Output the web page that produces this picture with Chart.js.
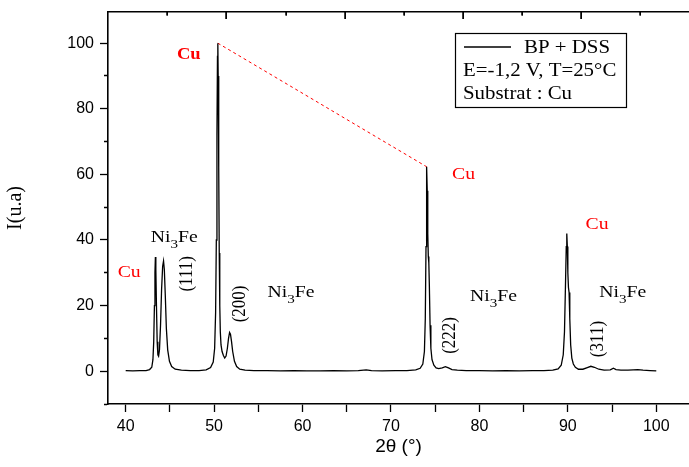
<!DOCTYPE html>
<html>
<head>
<meta charset="utf-8">
<script src="https://cdn.jsdelivr.net/npm/chart.js@4.4.1/dist/chart.umd.min.js"></script>
<style>
  html, body { margin: 0; padding: 0; background: #fff; }
  #wrap { width: 689px; height: 467px; }
</style>
</head>
<body>
<div id="wrap"><canvas id="xrd" width="689" height="467"></canvas></div>
<script>
// Diffraction pattern: 2θ (degrees) and intensity (a.u.)
const twoTheta = [
  40.0, 40.8, 41.6, 42.3, 42.7, 42.95, 43.08, 43.17, 43.25, 43.31, 43.36, 43.41, 43.48, 43.56, 43.64, 43.72,
  43.82, 43.94, 44.06, 44.18, 44.28, 44.37, 44.48, 44.6, 44.75, 44.95, 45.2, 45.6, 46.3, 47.3, 48.3, 49.1,
  49.6, 49.9, 50.06, 50.17, 50.25, 50.32, 50.38, 50.42, 50.46, 50.52, 50.58, 50.64, 50.7, 50.78, 50.9, 51.05,
  51.2, 51.35, 51.5, 51.63, 51.75, 51.85, 51.97, 52.1, 52.3, 52.55, 52.9, 53.5, 54.5, 56.0, 57.5, 59.0,
  60.5, 62.0, 63.5, 65.0, 66.3, 67.2, 67.8, 69.0, 70.5, 71.8, 72.8, 73.3, 73.6, 73.78, 73.88, 73.96,
  74.01, 74.05, 74.1, 74.16, 74.22, 74.28, 74.34, 74.42, 74.51, 74.64, 74.85, 75.1, 75.4, 75.8, 76.15, 76.5,
  76.9, 77.5, 78.5, 80.0, 81.5, 83.0, 84.5, 86.0, 87.3, 88.3, 88.9, 89.25, 89.48, 89.62, 89.73, 89.82,
  89.88, 89.94, 90.0, 90.07, 90.14, 90.22, 90.32, 90.45, 90.62, 90.85, 91.2, 91.7, 92.2, 92.6, 93.0, 93.5,
  94.1, 94.8, 95.15, 95.45, 96.0, 96.8, 97.4, 97.9, 98.5, 99.3, 100.0
];
const intensity = [
  0.2, 0.1, 0.2, 0.2, 0.5, 1.2, 3.5, 9, 20, 30, 34.8, 31, 20, 9, 5, 4.6,
  6.5, 14, 25, 32, 33.6, 31, 23, 13, 6.5, 3, 1.4, 0.6, 0.3, 0.2, 0.2, 0.4,
  1.1, 2.8, 7, 18, 40, 72, 96, 100, 90, 62, 36, 20, 12, 8, 6, 4.8,
  4.0, 4.6, 7, 10, 11.8, 11.3, 9, 6, 3, 1.4, 0.6, 0.3, 0.2, 0.2, 0.1, 0.2,
  0.1, 0.1, 0.2, 0.1, 0.2, 0.4, 0.2, 0.1, 0.2, 0.2, 0.4, 0.9, 2.2, 6, 16, 38,
  56, 62.3, 55, 42, 35, 33, 26, 14, 7, 3.5, 1.8, 1.0, 0.8, 1.0, 1.4, 1.0,
  0.5, 0.3, 0.2, 0.2, 0.1, 0.2, 0.1, 0.2, 0.2, 0.3, 0.7, 1.8, 5, 12, 26, 38,
  42, 38, 30, 25.5, 24, 16, 8, 4, 2.2, 1.2, 0.6, 0.6, 1.1, 1.5, 1.2, 0.6,
  0.3, 0.4, 0.9, 0.5, 0.3, 0.3, 0.4, 0.5, 0.3, 0.2, 0.1
];
// Dashed guide joining the two strongest Cu reflections
const guideTheta = [50.42, 74.05];
const guideIntensity = [100, 62.3];

// Labelled tick values
const xLabelValues = [40, 50, 60, 70, 80, 90, 100];
const yLabelValues = [0, 20, 40, 60, 80, 100];
// Unlabelled marks along the top frame
const topTickValues = [44.72, 51.4, 58.1, 64.78, 71.46, 78.14, 84.84, 91.52, 98.2];

const SERIF = '"Liberation Serif", "Times New Roman", serif';
const SANS = '"Liberation Sans", Arial, sans-serif';
const STRETCH = 1.16; // lettering is slightly wider than tall

function drawParts(ctx, parts, px, py, color, rotate, align) {
  ctx.save();
  ctx.translate(px, py);
  ctx.scale(STRETCH, 1);
  if (rotate) ctx.rotate(-Math.PI / 2);
  ctx.fillStyle = color;
  ctx.textBaseline = 'middle';
  ctx.textAlign = 'left';
  let total = 0;
  for (const p of parts) {
    ctx.font = (p.bold ? 'bold ' : '') + p.size + 'px ' + SERIF;
    total += ctx.measureText(p.text).width;
  }
  let cx = align === 'left' ? 0 : -total / 2;
  for (const p of parts) {
    ctx.font = (p.bold ? 'bold ' : '') + p.size + 'px ' + SERIF;
    ctx.fillText(p.text, cx, p.dy || 0);
    cx += ctx.measureText(p.text).width;
  }
  ctx.restore();
}

const ni3fe = [
  { text: 'Ni', size: 17 },
  { text: '3', size: 13, dy: 7 },
  { text: 'Fe', size: 17 }
];

// Inward marks hanging from the top frame, positioned by the x2 scale
function drawTopMarks(chart) {
  const s = chart.scales.x2;
  const ctx = chart.ctx;
  const top = Math.round(chart.chartArea.top);
  ctx.save();
  ctx.fillStyle = '#000';
  topTickValues.forEach((v, i) => {
    const px = Math.round(s.getPixelForValue(v));
    ctx.fillRect(px - 0.5, top, 1.4, i % 2 === 1 ? 7 : 3.5);
  });
  ctx.restore();
}

const phaseLabels = {
  id: 'phaseLabels',
  afterDatasetsDraw(chart, args, opts) {
    const ctx = chart.ctx;
    const xs = chart.scales.x, ys = chart.scales.y;
    for (const n of opts.notes) {
      drawParts(ctx, n.parts, xs.getPixelForValue(n.at[0]), ys.getPixelForValue(n.at[1]),
        n.color || '#000', n.rotate, 'center');
    }
    // legend box
    const b = opts.box;
    ctx.save();
    ctx.setLineDash([]);
    ctx.strokeStyle = '#000';
    ctx.lineWidth = 1.2;
    ctx.strokeRect(b.x + 0.5, b.y + 0.5, b.w, b.h);
    ctx.lineWidth = 1.3;
    ctx.beginPath();
    ctx.moveTo(b.x + 9, b.y + 14);
    ctx.lineTo(b.x + 56, b.y + 14);
    ctx.stroke();
    ctx.restore();
    drawParts(ctx, [{ text: chart.data.datasets[0].label, size: 18 }], b.x + 69, b.y + 15, '#000', false, 'left');
    drawParts(ctx, [{ text: 'E=-1,2 V, T=25°C', size: 18 }], b.x + 8, b.y + 38, '#000', false, 'left');
    drawParts(ctx, [{ text: 'Substrat : Cu', size: 18 }], b.x + 8, b.y + 61.5, '#000', false, 'left');
    drawTopMarks(chart);
  },
  afterDraw(chart) {
    drawTopMarks(chart);
  }
};

new Chart(document.getElementById('xrd'), {
  type: 'scatter',
  data: {
    datasets: [
      {
        label: 'BP + DSS',
        data: twoTheta.map((t, i) => ({ x: t, y: intensity[i] })),
        showLine: true,
        borderColor: '#000',
        borderWidth: 1.3,
        pointRadius: 0,
        tension: 0
      },
      {
        label: 'guide',
        data: guideTheta.map((t, i) => ({ x: t, y: guideIntensity[i] })),
        showLine: true,
        borderColor: '#ff0000',
        borderWidth: 1,
        borderDash: [3, 3],
        pointRadius: 0
      }
    ]
  },
  options: {
    responsive: false,
    animation: false,
    layout: { padding: { top: 12, left: 0, right: 0, bottom: 0 } },
    plugins: {
      legend: { display: false },
      tooltip: { enabled: false },
      phaseLabels: {
        notes: [
          { parts: [{ text: 'Cu', size: 16, bold: true }], at: [47.13, 96.3], color: '#ff0000' },
          { parts: [{ text: 'Cu', size: 17 }], at: [40.4, 30.1], color: '#ff0000' },
          { parts: [{ text: 'Cu', size: 17 }], at: [78.2, 59.9], color: '#ff0000' },
          { parts: [{ text: 'Cu', size: 17 }], at: [93.3, 44.7], color: '#ff0000' },
          { parts: ni3fe, at: [45.5, 40.6] },
          { parts: ni3fe, at: [58.7, 24.0] },
          { parts: ni3fe, at: [81.6, 22.8] },
          { parts: ni3fe, at: [96.2, 24.0] },
          { parts: [{ text: '(111)', size: 17 }], at: [46.95, 29.7], rotate: true },
          { parts: [{ text: '(200)', size: 17 }], at: [52.9, 20.5], rotate: true },
          { parts: [{ text: '(222)', size: 17 }], at: [76.66, 10.9], rotate: true },
          { parts: [{ text: '(311)', size: 17 }], at: [93.37, 9.8], rotate: true }
        ],
        box: { x: 455, y: 33, w: 171, h: 74 }
      }
    },
    scales: {
      x: {
        type: 'linear',
        position: 'bottom',
        min: 38,
        max: 103.7,
        afterFit(s) { s.height = 63; s.paddingLeft = 0; s.paddingRight = 0; },
        ticks: {
          stepSize: 5,
          maxTicksLimit: 30,
          includeBounds: false,
          autoSkip: false,
          maxRotation: 0,
          color: '#000',
          padding: 5,
          font: { family: SANS, size: 16 },
          callback: v => (xLabelValues.includes(v) ? String(v) : '')
        },
        grid: { drawOnChartArea: false, tickLength: 8, tickWidth: 1.3, tickColor: '#000' },
        border: { display: true, color: '#000', width: 1.6 },
        title: {
          display: true,
          text: '2θ (°)',
          color: '#000',
          font: { family: SANS, size: 19 },
          padding: { top: 0, bottom: 9 }
        }
      },
      x2: {
        type: 'linear',
        position: 'top',
        min: 38,
        max: 103.7,
        afterFit(s) { s.height = 0; s.paddingLeft = 0; s.paddingRight = 0; },
        ticks: { display: false },
        grid: { display: false },
        border: { display: true, color: '#000', width: 1.6 }
      },
      y: {
        type: 'linear',
        position: 'left',
        min: -10,
        max: 109.5,
        afterFit(s) { s.width = 108; s.paddingTop = 0; s.paddingBottom = 0; },
        ticks: {
          stepSize: 10,
          maxTicksLimit: 30,
          includeBounds: false,
          autoSkip: false,
          color: '#000',
          padding: 6,
          font: { family: SANS, size: 16 },
          callback: v => (yLabelValues.includes(v) ? String(v) : '')
        },
        grid: {
          drawOnChartArea: false,
          tickLength: 8,
          tickWidth: 1.3,
          tickColor: '#000',
          tickBorderDash: c => (c.tick && yLabelValues.includes(c.tick.value) ? [] : [0, 4, 4, 100])
        },
        border: { display: true, color: '#000', width: 1.6 },
        title: {
          display: true,
          text: 'I(u.a)',
          color: '#000',
          font: { family: SERIF, size: 20 },
          padding: { top: 4, bottom: 0 }
        }
      }
    }
  },
  plugins: [phaseLabels]
});
</script>
</body>
</html>
